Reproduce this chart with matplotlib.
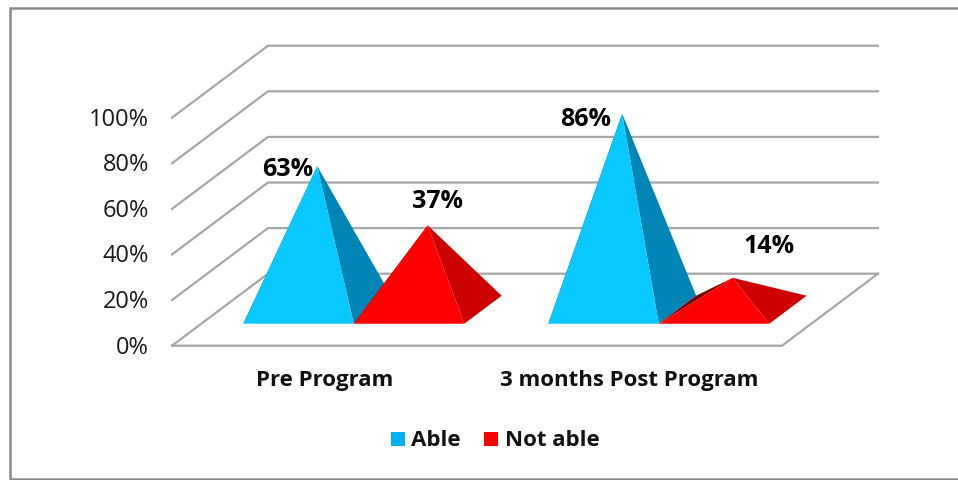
import matplotlib
matplotlib.use('Agg')
import matplotlib.pyplot as plt
from matplotlib.patches import Polygon, Rectangle

categories = ['Pre Program', '3 months Post Program']
series_names = ['Able', 'Not able']
able = [63, 86]
not_able = [37, 14]
ticks = [0, 20, 40, 60, 80, 100]

plt.rcParams['font.family'] = ['Open Sans', 'DejaVu Sans']

W, H = 958, 481
# size of the 3d box, in pixels
PX_LEFT, PX_FLOOR = 172, 346.7
CAT_PX, PCT_PX = 305.0, 2.28
DEPTH_X = 96 / CAT_PX
DEPTH_Y = 72 / PCT_PX
BAR_W = 110.5 / CAT_PX
FRONT, BACK = 0.305, 0.694

fig = plt.figure(figsize=(W / 100, H / 100), dpi=100)
ax = fig.add_axes([0, 0, 1, 1])
ax.set_xlim(-PX_LEFT / CAT_PX, (W - PX_LEFT) / CAT_PX)
ax.set_ylim((PX_FLOOR - H) / PCT_PX, PX_FLOOR / PCT_PX)
ax.axis('off')


def proj(x, depth, v):
    return x + depth * DEPTH_X, v + depth * DEPTH_Y


def px(x_px, y_px):
    return (x_px - PX_LEFT) / CAT_PX, (PX_FLOOR - y_px) / PCT_PX


# chart border, open on the right
border = [px(W, 9), px(10, 9), px(10, 480), px(W, 480)]
ax.plot(*zip(*border), color='#8c8c8c', lw=1.8, solid_joinstyle='miter', zorder=1)

# walls and floor
grid_col = '#a6a6a6'
n_cat = len(categories)
for t in ticks:
    pts = [proj(0, 0, t), proj(0, 1, t), proj(n_cat, 1, t)]
    ax.plot(*zip(*pts), color=grid_col, lw=1.6, solid_joinstyle='miter', zorder=2)
floor = [proj(0, 0, 0), proj(n_cat, 0, 0), proj(n_cat, 1, 0)]
ax.plot(*zip(*floor), color=grid_col, lw=1.6, solid_joinstyle='miter', zorder=2)


def pyramid(left, v, front_col, side_col, back_col, z):
    right = left + BAR_W
    mid = left + BAR_W / 2
    apex = proj(mid, (FRONT + BACK) / 2, v)
    fl = proj(left, FRONT, 0)
    fr = proj(right, FRONT, 0)
    bl = proj(left, BACK, 0)
    br = proj(right, BACK, 0)
    ax.add_patch(Polygon([bl, apex, fl], color=back_col, lw=0, zorder=z))
    ax.add_patch(Polygon([fr, br, apex], color=side_col, lw=0, zorder=z + 0.1))
    ax.add_patch(Polygon([fl, fr, apex], color=front_col, lw=0, zorder=z + 0.2))
    return apex


# value label offsets from the apex, in pixels
able_off = [(-30, -2), (-37, -5)]
not_able_off = [(10, 25), (36, 32)]
val_font = dict(fontsize=18, fontweight='bold', color='black', ha='center', va='center', zorder=10)
cat_font = dict(fontsize=16, fontweight='bold', color='#111111', va='center', zorder=10)

for i, cat in enumerate(categories):
    x0 = i + 0.5 - BAR_W
    a = pyramid(x0, able[i], '#09c8ff', '#0085b5', '#005f80', 3)
    b = pyramid(x0 + BAR_W, not_able[i], '#ff0000', '#cc0000', '#7a0000', 4)
    ax.text(a[0] + able_off[i][0] / CAT_PX, a[1] + able_off[i][1] / PCT_PX, '%d%%' % able[i], **val_font)
    ax.text(b[0] + not_able_off[i][0] / CAT_PX, b[1] + not_able_off[i][1] / PCT_PX, '%d%%' % not_able[i], **val_font)
    ax.text(i + 0.5, -34 / PCT_PX, cat, ha='center', **cat_font)

for t in ticks:
    ax.text(-23 / CAT_PX, t - 1 / PCT_PX, '%d%%' % t, ha='right', va='center', fontsize=17, color='#1a1a1a')

# legend
square_x = [391, 484]
text_x = [411, 505]
for i, name in enumerate(series_names):
    x, y = px(square_x[i], 447)
    ax.add_patch(Rectangle((x, y), 14 / CAT_PX, 14 / PCT_PX, color=['#00b0f0', '#ff0000'][i], lw=0, zorder=5))
    x, y = px(text_x[i], 440.5)
    ax.text(x, y, name, ha='left', **cat_font)

fig.savefig('out.png', dpi=100, facecolor='white')
